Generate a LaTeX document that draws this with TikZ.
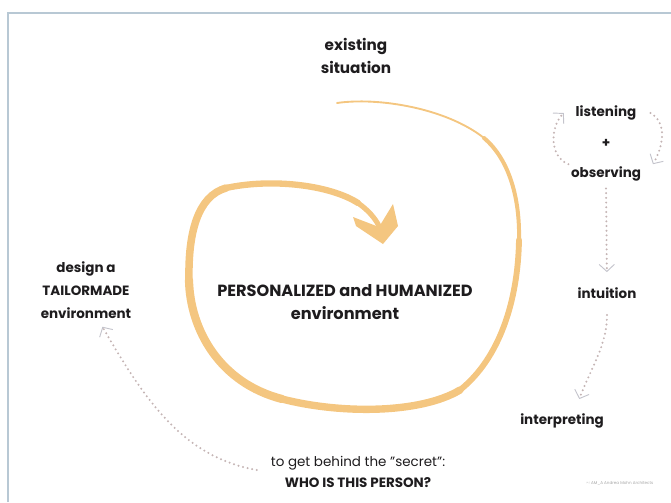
\documentclass[tikz,border=0pt]{standalone}
\usepackage{fontspec}
\setmainfont{Poppins}
\usepackage{tikz}
\usetikzlibrary{shapes,arrows,arrows.meta}

\definecolor{swirlcol}{RGB}{244,198,128}
\definecolor{dotcol}{RGB}{196,180,180}
\definecolor{tipcol}{RGB}{196,196,204}
\definecolor{framecol}{RGB}{184,200,212}
\definecolor{txt}{RGB}{30,28,30}

\begin{document}
\begin{tikzpicture}[x=0.03cm,y=-0.03cm,
	lbl/.style={font=\bfseries\fontsize{11.5}{19.5}\selectfont,text=txt,align=center,inner sep=2pt},
	big/.style={lbl,font=\bfseries\fontsize{13.8}{19.5}\selectfont},
	swirl/.style={draw=swirlcol,line cap=round},
	dots/.style={draw=dotcol,line width=1.9pt,dash pattern=on 0pt off 4pt,line cap=round,
		-{Straight Barb[length=6pt,width=13pt,line width=0.8pt,color=tipcol]}}]
			\useasboundingbox (0,0) rectangle (671,502);
			\draw[framecol,line width=1.4pt] (8,502) -- (8,13) -- (671,13);

			\node[lbl,font=\bfseries\fontsize{13}{19.5}\selectfont] (existing) at (356,56) {existing\\situation};
			\node[lbl] (listening) at (606,113) {listening};
			\node[lbl] (plus) at (606,143) {+};
			\node[lbl] (observing) at (606,174) {observing};
			\node[lbl] (intuition) at (607,293) {intuition};
			\node[lbl] (interpreting) at (562,421) {interpreting};
			\node[lbl] (design) at (86,290) {design a\\TAILORMADE\\environment};
			\node[big] (center) at (345,302) {PERSONALIZED and HUMANIZED\\environment};
			\node[lbl,font=\fontsize{11.5}{18}\selectfont] (secret) at (358,472) {to get behind the "secret":\\\textbf{WHO IS THIS PERSON?}};
			\node[text=gray!70,font=\fontsize{3.5}{4}\selectfont,inner sep=0pt] (copy) at (620,483) {© AM\_A Andrea Mohn Architects};

			\draw[swirl,line width=1.6pt] (337,103) .. controls (378,97) and (446,108) .. (484,138);
			\draw[swirl,line width=3.4pt] (484,138) .. controls (510,160) and (520,200) .. (519,240);
			\draw[swirl,line width=5pt] (519,240) .. controls (518,300) and (500,358) .. (460,390);
			\draw[swirl,line width=6.3pt] (460,390) .. controls (420,414) and (340,414) .. (282,399);
			\draw[swirl,line width=7pt] (282,399) .. controls (220,383) and (190,330) .. (189,280);
			\draw[swirl,line width=6.4pt] (189,280) .. controls (188,232) and (198,196) .. (226,188);
			\draw[swirl,line width=5.4pt] (226,188) .. controls (272,178) and (330,185) .. (358,203);
			\draw[swirl,line width=4.4pt] (358,203) .. controls (368,210) and (375,218) .. (379,226);
			\fill[swirlcol] (353,217) -- (379,227) -- (393,204) -- (398,226) -- (383,244) -- (356,226) -- cycle;

			\draw[dots] (observing.north west) to[out=160,in=225] ([xshift=-8pt]listening.west);
			\draw[dots] ([xshift=10pt]listening.east) to[out=-30,in=60] ([xshift=8pt]observing.north east);
			\draw[dots,shorten <=4pt,shorten >=11pt] (observing.south) -- (intuition.north);
			\draw[dots,shorten <=12pt,shorten >=11pt] (intuition.south) to[out=-90,in=70] ([xshift=11pt]interpreting.north);
			\draw[dots,shorten <=10pt] (secret.west) to[out=170,in=-60] ([xshift=14pt,yshift=-5pt]design.south);
		\end{tikzpicture}
\end{document}
